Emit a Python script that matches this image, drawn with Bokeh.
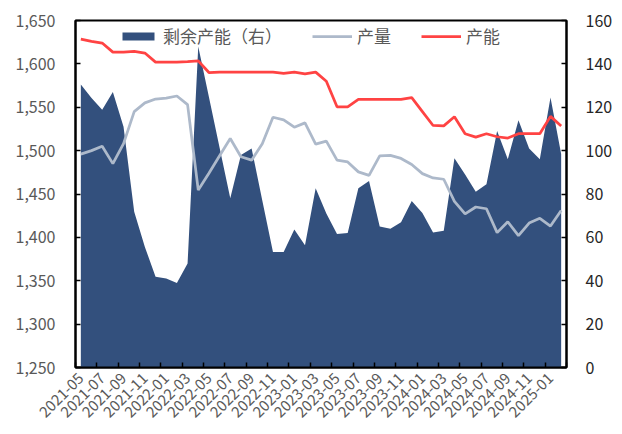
from math import pi

from bokeh.embed import file_html
from bokeh.models import (ColumnDataSource, FixedTicker, Legend, LegendItem,
                          LinearAxis, NumeralTickFormatter, Range1d)
from bokeh.plotting import figure
from bokeh.resources import INLINE

# Monthly categories
months = [
    "2021-05", "2021-06", "2021-07", "2021-08", "2021-09", "2021-10", "2021-11", "2021-12",
    "2022-01", "2022-02", "2022-03", "2022-04", "2022-05", "2022-06", "2022-07", "2022-08",
    "2022-09", "2022-10", "2022-11", "2022-12", "2023-01", "2023-02", "2023-03", "2023-04",
    "2023-05", "2023-06", "2023-07", "2023-08", "2023-09", "2023-10", "2023-11", "2023-12",
    "2024-01", "2024-02", "2024-03", "2024-04", "2024-05", "2024-06", "2024-07", "2024-08",
    "2024-09", "2024-10", "2024-11", "2024-12", "2025-01", "2025-02",
]

# Spare capacity (right axis)
surplus = [
    130.5, 124.3, 118.8, 127.0, 111.0, 71.8, 55.6, 41.8, 41.0, 39.0, 48.0, 148.0,
    124.7, 101.3, 78.0, 98.0, 101.0, 77.0, 53.3, 53.3, 63.6, 56.4, 82.6, 71.0,
    61.5, 62.0, 82.6, 86.0, 65.0, 64.0, 67.0, 76.8, 71.2, 62.3, 63.0, 96.5,
    89.0, 81.0, 84.5, 109.0, 96.0, 114.0, 101.0, 96.0, 124.5, 98.5,
]

# Output (left axis)
output = [
    1496, 1500, 1505, 1485, 1508, 1545, 1555, 1559.5, 1560.5, 1563, 1553, 1454.5,
    1474, 1494, 1514, 1493, 1489, 1508, 1538.5, 1535.5, 1527, 1532, 1507.5, 1511,
    1489, 1487, 1475.5, 1471.5, 1494, 1494.5, 1491, 1484, 1473.5, 1468.5, 1467, 1441.5,
    1427, 1435, 1433, 1405.5, 1418, 1402, 1416.5, 1422, 1413, 1431,
]

# Capacity (left axis)
capacity = [
    1628.5, 1626, 1624, 1613.5, 1613.5, 1614.5, 1612.5, 1602, 1602, 1602, 1602.5, 1603.5,
    1590, 1590.5, 1590.5, 1590.5, 1590.5, 1590.5, 1590.5, 1589, 1590.5, 1588.5, 1590.5, 1580,
    1550.5, 1550.5, 1559, 1559, 1559, 1559, 1559, 1561, 1545, 1529, 1528.5, 1539,
    1519.5, 1515.5, 1519.5, 1516, 1514.5, 1519.5, 1519.5, 1519.5, 1539.5, 1528.5,
]

left_ticks = [1250, 1300, 1350, 1400, 1450, 1500, 1550, 1600, 1650]
right_ticks = [0, 20, 40, 60, 80, 100, 120, 140, 160]

NAVY = "#33507D"
GRAY = "#ADB9CA"
RED = "#FF4343"
FONT = "Noto Sans CJK SC"

idx = list(range(len(months)))
src = ColumnDataSource(dict(x=idx, surplus=surplus, output=output, capacity=capacity))

p = figure(
    width=622, height=434, output_backend="svg", toolbar_location=None,
    x_range=Range1d(-0.5, len(months) - 0.5),
    y_range=Range1d(left_ticks[0], left_ticks[-1]),
    min_border_left=75, min_border_right=56, min_border_top=20, min_border_bottom=67,
)
p.extra_y_ranges = {"right": Range1d(right_ticks[0], right_ticks[-1])}
p.grid.visible = False
p.outline_line_color = "black"
p.outline_line_width = 2
p.background_fill_color = "white"
p.border_fill_color = "white"

r_area = p.varea(x="x", y1=0, y2="surplus", source=src, y_range_name="right",
                 fill_color=NAVY)
r_out = p.line("x", "output", source=src, line_color=GRAY, line_width=2.75)
r_cap = p.line("x", "capacity", source=src, line_color=RED, line_width=2.75)

# Bottom axis: labels every other month, tick marks on category boundaries
xa = p.xaxis[0]
label_pos = idx[::2]
xa.ticker = FixedTicker(ticks=label_pos,
                        minor_ticks=[i - 0.5 for i in range(0, len(months) + 1, 2)])
xa.major_label_overrides = {i: months[i] for i in label_pos}
xa.major_label_orientation = pi / 4
xa.major_tick_in = 0
xa.major_tick_out = 0
xa.minor_tick_in = 5
xa.minor_tick_out = 0
xa.minor_tick_line_color = "black"
xa.minor_tick_line_width = 1.5
xa.axis_line_color = "black"
xa.axis_line_width = 2
xa.major_label_standoff = 8
xa.major_label_text_font = FONT
xa.major_label_text_font_size = "15px"
xa.major_label_text_color = "#595959"

# Left axis
ya = p.yaxis[0]
ya.ticker = FixedTicker(ticks=left_ticks)
ya.formatter = NumeralTickFormatter(format="0,0")
ya.major_tick_in = 5
ya.major_tick_out = 0
ya.minor_tick_line_color = None
ya.major_tick_line_color = "black"
ya.major_tick_line_width = 1.5
ya.axis_line_color = "black"
ya.axis_line_width = 2
ya.major_label_standoff = 20
ya.major_label_text_font = FONT
ya.major_label_text_font_size = "16px"
ya.major_label_text_color = "#595959"

# Right axis for spare capacity
ra = LinearAxis(y_range_name="right", ticker=FixedTicker(ticks=right_ticks))
ra.major_tick_in = 5
ra.major_tick_out = 0
ra.minor_tick_line_color = None
ra.major_tick_line_color = "black"
ra.major_tick_line_width = 1.5
ra.axis_line_color = "black"
ra.axis_line_width = 2
ra.major_label_standoff = 19
ra.major_label_text_font = FONT
ra.major_label_text_font_size = "16px"
ra.major_label_text_color = "#262626"
p.add_layout(ra, "right")

legend = Legend(
    items=[
        LegendItem(label="剩余产能（右）", renderers=[r_area]),
        LegendItem(label="产量", renderers=[r_out]),
        LegendItem(label="产能", renderers=[r_cap]),
    ],
    location=(43, 319), orientation="horizontal",
    glyph_width=40, glyph_height=10, label_standoff=5, spacing=30,
    padding=0, margin=0, border_line_color=None, background_fill_alpha=0,
    label_text_font=FONT, label_text_font_size="17px", label_text_color="#595959",
    label_height=20,
)
p.add_layout(legend)

open("out.html", "w").write(file_html(p, INLINE))
